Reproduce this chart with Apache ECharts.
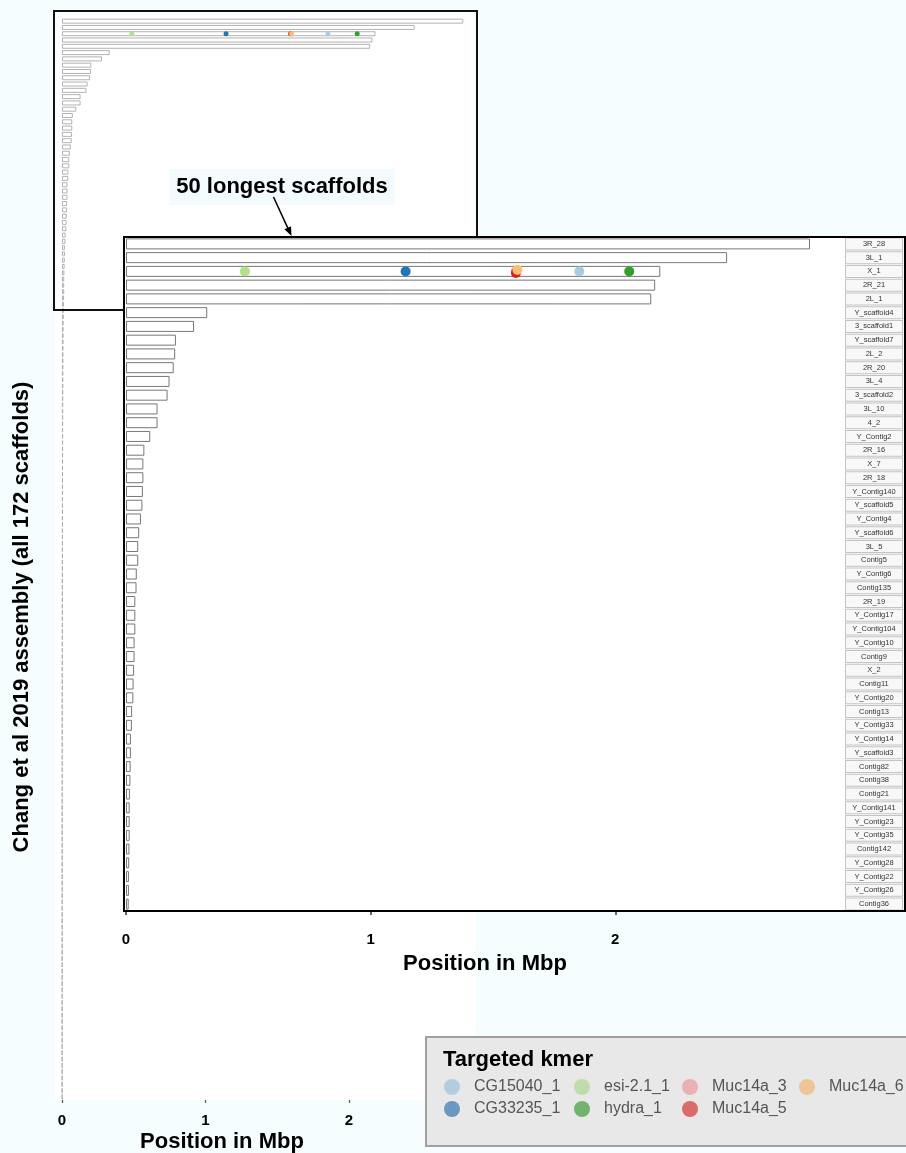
<!DOCTYPE html>
<html>
<head>
<meta charset="utf-8">
<script src="https://cdn.jsdelivr.net/npm/echarts@6/dist/echarts.min.js"></script>
<style>
html,body{margin:0;padding:0;background:#f6fdff;}
#chart{width:906px;height:1153px;}
</style>
</head>
<body>
<div id="chart"></div>
<script>
// ---------------- data ----------------
const scaffoldNames = ['3R_28','3L_1','X_1','2R_21','2L_1','Y_scaffold4','3_scaffold1','Y_scaffold7','2L_2','2R_20',
  '3L_4','3_scaffold2','3L_10','4_2','Y_Contig2','2R_16','X_7','2R_18','Y_Contig140','Y_scaffold5',
  'Y_Contig4','Y_scaffold6','3L_5','Contig5','Y_Contig6','Contig135','2R_19','Y_Contig17','Y_Contig104','Y_Contig10',
  'Contig9','X_2','Contig11','Y_Contig20','Contig13','Y_Contig33','Y_Contig14','Y_scaffold3','Contig82','Contig38',
  'Contig21','Y_Contig141','Y_Contig23','Y_Contig35','Contig142','Y_Contig28','Y_Contig22','Y_Contig26','Contig36'];
// lengths in Mbp of the longest scaffolds
const scaffoldLengths = [2.796,2.457,2.184,2.163,2.147,0.332,0.278,0.204,0.201,0.195,
  0.178,0.170,0.129,0.129,0.099,0.075,0.071,0.071,0.069,0.067,
  0.061,0.054,0.050,0.050,0.044,0.043,0.038,0.038,0.038,0.035,
  0.035,0.033,0.031,0.030,0.025,0.024,0.020,0.020,0.019,0.018,
  0.016,0.015,0.015,0.015,0.014,0.013,0.012,0.012,0.011];
// remaining (tiny) scaffolds of the 172, estimated
const otherScaffoldLengths = [0.0108,0.0105,0.0102,0.0100,0.0097,0.0095,0.0093,0.0091,0.0089,0.0087,
  0.0085,0.0083,0.0081,0.0080,0.0078,0.0076,0.0075,0.0073,0.0072,0.0070,
  0.0069,0.0067,0.0066,0.0064,0.0063,0.0062,0.0060,0.0059,0.0058,0.0057,
  0.0056,0.0055,0.0054,0.0053,0.0052,0.0051,0.0050,0.0049,0.0048,0.0047,
  0.0046,0.0045,0.0045,0.0044,0.0043,0.0042,0.0041,0.0041,0.0040,0.0039,
  0.0038,0.0038,0.0037,0.0036,0.0036,0.0035,0.0034,0.0034,0.0033,0.0032,
  0.0032,0.0031,0.0031,0.0030,0.0029,0.0029,0.0028,0.0028,0.0027,0.0027,
  0.0026,0.0026,0.0025,0.0025,0.0024,0.0024,0.0023,0.0023,0.0022,0.0022,
  0.0021,0.0021,0.0021,0.0020,0.0020,0.0019,0.0019,0.0019,0.0018,0.0018,
  0.0018,0.0017,0.0017,0.0017,0.0016,0.0016,0.0016,0.0015,0.0015,0.0015,
  0.0014,0.0014,0.0014,0.0013,0.0013,0.0013,0.0013,0.0012,0.0012,0.0012,
  0.0012,0.0011,0.0011,0.0011,0.0011,0.0010,0.0010,0.0010,0.0010,0.0009,
  0.0009,0.0009,0.0008];
const kmerNames = ['CG15040_1','CG33235_1','esi-2.1_1','hydra_1','Muc14a_3','Muc14a_5','Muc14a_6'];
const kmerScaffolds = ['X_1','X_1','X_1','X_1','X_1','X_1','X_1'];
const kmerPositions = [1.853,1.143,0.486,2.057,1.594,1.594,1.600];
const xTickValues = [0,1,2];

// ---------------- styles ----------------
const kmerColors = ['#a6cee3','#1f78b4','#b2df8a','#33a02c','#fb9a99','#e31a1c','#fdbf6f'];
const legendColors = ['#b3cde0','#6a98c1','#c0dca8','#72b46c','#e9b1b0','#db6a6b','#eec596'];
const FONT = "'Liberation Sans', Arial, Helvetica, sans-serif";

const allLengths = scaffoldLengths.concat(otherScaffoldLengths);
const bgCategories = allLengths.map((_, i) => String(i));

const chart = echarts.init(document.getElementById('chart'), null, {renderer: 'canvas'});

const series = [];
// background: all scaffolds
series.push({
  type: 'bar', name: 'all', xAxisIndex: 0, yAxisIndex: 0,
  data: allLengths, barWidth: '78%', z: 2, silent: true,
  itemStyle: {color: '#ffffff', borderColor: '#aaaaaa', borderWidth: 0.9}
});
// inset: longest scaffolds
series.push({
  type: 'bar', name: 'top', xAxisIndex: 1, yAxisIndex: 1,
  data: scaffoldLengths, barWidth: '80%', z: 10, silent: true,
  itemStyle: {color: '#ffffff', borderColor: '#777777', borderWidth: 1}
});
kmerNames.forEach((k, i) => {
  let off = 0;
  if (k === 'Muc14a_6') off = -1.5;
  if (k === 'Muc14a_5') off = 1.5;
  series.push({
    type: 'scatter', name: k, xAxisIndex: 0, yAxisIndex: 0, z: 3, silent: true,
    symbol: 'circle', symbolSize: 5,
    itemStyle: {color: kmerColors[i], opacity: 1},
    data: [[kmerPositions[i], scaffoldNames.indexOf(kmerScaffolds[i])]]
  });
  series.push({
    type: 'scatter', name: k, xAxisIndex: 1, yAxisIndex: 1, z: 11, silent: true,
    symbol: 'circle', symbolSize: 10, symbolOffset: [0, off],
    itemStyle: {color: kmerColors[i], opacity: 1},
    data: [[kmerPositions[i], kmerScaffolds[i]]]
  });
});

function makeLegend(names, left) {
  return {
    orient: 'vertical', left: left, top: 1074, z: 30,
    itemWidth: 34, itemHeight: 16, itemGap: 6, icon: 'circle',
    selectedMode: false,
    textStyle: {fontFamily: FONT, fontSize: 16, color: '#555555'},
    data: names.map(n => ({name: n, itemStyle: {color: legendColors[kmerNames.indexOf(n)]}}))
  };
}

// arrow geometry
const ax0 = 273.5, ay0 = 197, ax1 = 291.5, ay1 = 236;
const adx = ax1 - ax0, ady = ay1 - ay0, alen = Math.sqrt(adx*adx + ady*ady);
const ux = adx / alen, uy = ady / alen;
const hl = 9, hw = 3.6;
const bx = ax1 - ux*hl, by = ay1 - uy*hl;

const option = {
  backgroundColor: '#f6fdff',
  animation: false,
  textStyle: {fontFamily: FONT},
  grid: [
    {left: 55, top: 18, width: 421, height: 1082, containLabel: false, show: false, z: 1},
    {left: 125, top: 237, width: 721, height: 674, containLabel: false, show: true,
     backgroundColor: '#ffffff', borderWidth: 0, z: 5}
  ],
  xAxis: [
    {type: 'value', gridIndex: 0, min: -0.049, max: 2.885, z: 2,
     axisLine: {show: false}, splitLine: {show: false},
     axisTick: {show: true, customValues: xTickValues, length: 3, lineStyle: {color: '#555', width: 1.2}},
     axisLabel: {customValues: xTickValues, fontFamily: FONT, fontWeight: 'bold', fontSize: 15, color: '#000', margin: 13}},
    {type: 'value', gridIndex: 1, min: -0.0041, max: 2.939, z: 12,
     axisLine: {show: true, lineStyle: {color: '#000', width: 2}}, splitLine: {show: false},
     axisTick: {show: true, customValues: xTickValues, length: 4, lineStyle: {color: '#333', width: 1.5}},
     axisLabel: {customValues: xTickValues, fontFamily: FONT, fontWeight: 'bold', fontSize: 15, color: '#000', margin: 21},
     name: 'Position in Mbp', nameLocation: 'middle', nameGap: 42,
     nameTextStyle: {fontFamily: FONT, fontWeight: 'bold', fontSize: 22, color: '#000'}}
  ],
  yAxis: [
    {type: 'category', gridIndex: 0, data: bgCategories, inverse: true,
     axisLine: {show: false}, axisTick: {show: false}, axisLabel: {show: false}, splitLine: {show: false}},
    {type: 'category', gridIndex: 1, data: scaffoldNames, inverse: true, z: 12,
     axisLine: {show: false}, axisTick: {show: false}, axisLabel: {show: false}, splitLine: {show: false}},
    {type: 'category', gridIndex: 1, data: scaffoldNames, inverse: true, position: 'right', z: 12,
     axisLine: {show: false}, axisTick: {show: false}, splitLine: {show: false},
     axisLabel: {show: true, interval: 0, align: 'center', margin: 29, width: 56, height: 11, lineHeight: 11,
       fontFamily: FONT, fontSize: 7.5, color: '#333', backgroundColor: '#f8f8f8',
       borderColor: '#c4c4c4', borderWidth: 1, padding: 0, overflow: 'truncate'}}
  ],
  legend: [
    makeLegend(['CG15040_1','CG33235_1'], 439),
    makeLegend(['esi-2.1_1','hydra_1'], 569),
    makeLegend(['Muc14a_3','Muc14a_5'], 677),
    makeLegend(['Muc14a_6'], 794)
  ],
  series: series,
  graphic: [
    {type: 'rect', z: -1, silent: true, shape: {x: 55, y: 11, width: 421, height: 1089}, style: {fill: '#ffffff'}},
    {type: 'rect', z: 4, silent: true, shape: {x: 54, y: 11, width: 423, height: 299},
     style: {fill: null, stroke: '#111', lineWidth: 2}},
    {type: 'rect', z: 20, silent: true, shape: {x: 124, y: 237, width: 781, height: 674},
     style: {fill: null, stroke: '#000', lineWidth: 2}},
    {type: 'text', z: 20, silent: true, x: 282, y: 187,
     style: {text: '50 longest scaffolds', font: 'bold 22px ' + FONT, fill: '#000',
       align: 'center', verticalAlign: 'middle', backgroundColor: '#f3fbff', padding: [7, 7]}},
    {type: 'line', z: 20, silent: true, shape: {x1: ax0, y1: ay0, x2: bx, y2: by},
     style: {stroke: '#000', lineWidth: 1.5}},
    {type: 'polygon', z: 20, silent: true,
     shape: {points: [[ax1, ay1], [bx - uy*hw, by + ux*hw], [bx + uy*hw, by - ux*hw]]},
     style: {fill: '#000'}},
    {type: 'text', z: 20, silent: true, x: 22, y: 617, rotation: Math.PI / 2,
     style: {text: 'Chang et al 2019 assembly (all 172 scaffolds)', font: 'bold 22px ' + FONT, fill: '#000',
       align: 'center', verticalAlign: 'middle'}},
    {type: 'text', z: 20, silent: true, x: 222, y: 1142,
     style: {text: 'Position in Mbp', font: 'bold 22px ' + FONT, fill: '#000',
       align: 'center', verticalAlign: 'middle'}},
    {type: 'rect', z: 15, silent: true, shape: {x: 426, y: 1037, width: 490, height: 109},
     style: {fill: '#e8e8e8', stroke: '#a0a0a0', lineWidth: 2}},
    {type: 'text', z: 25, silent: true, x: 443, y: 1060,
     style: {text: 'Targeted kmer', font: 'bold 22px ' + FONT, fill: '#000',
       align: 'left', verticalAlign: 'middle'}}
  ]
};
chart.setOption(option);
</script>
</body>
</html>
